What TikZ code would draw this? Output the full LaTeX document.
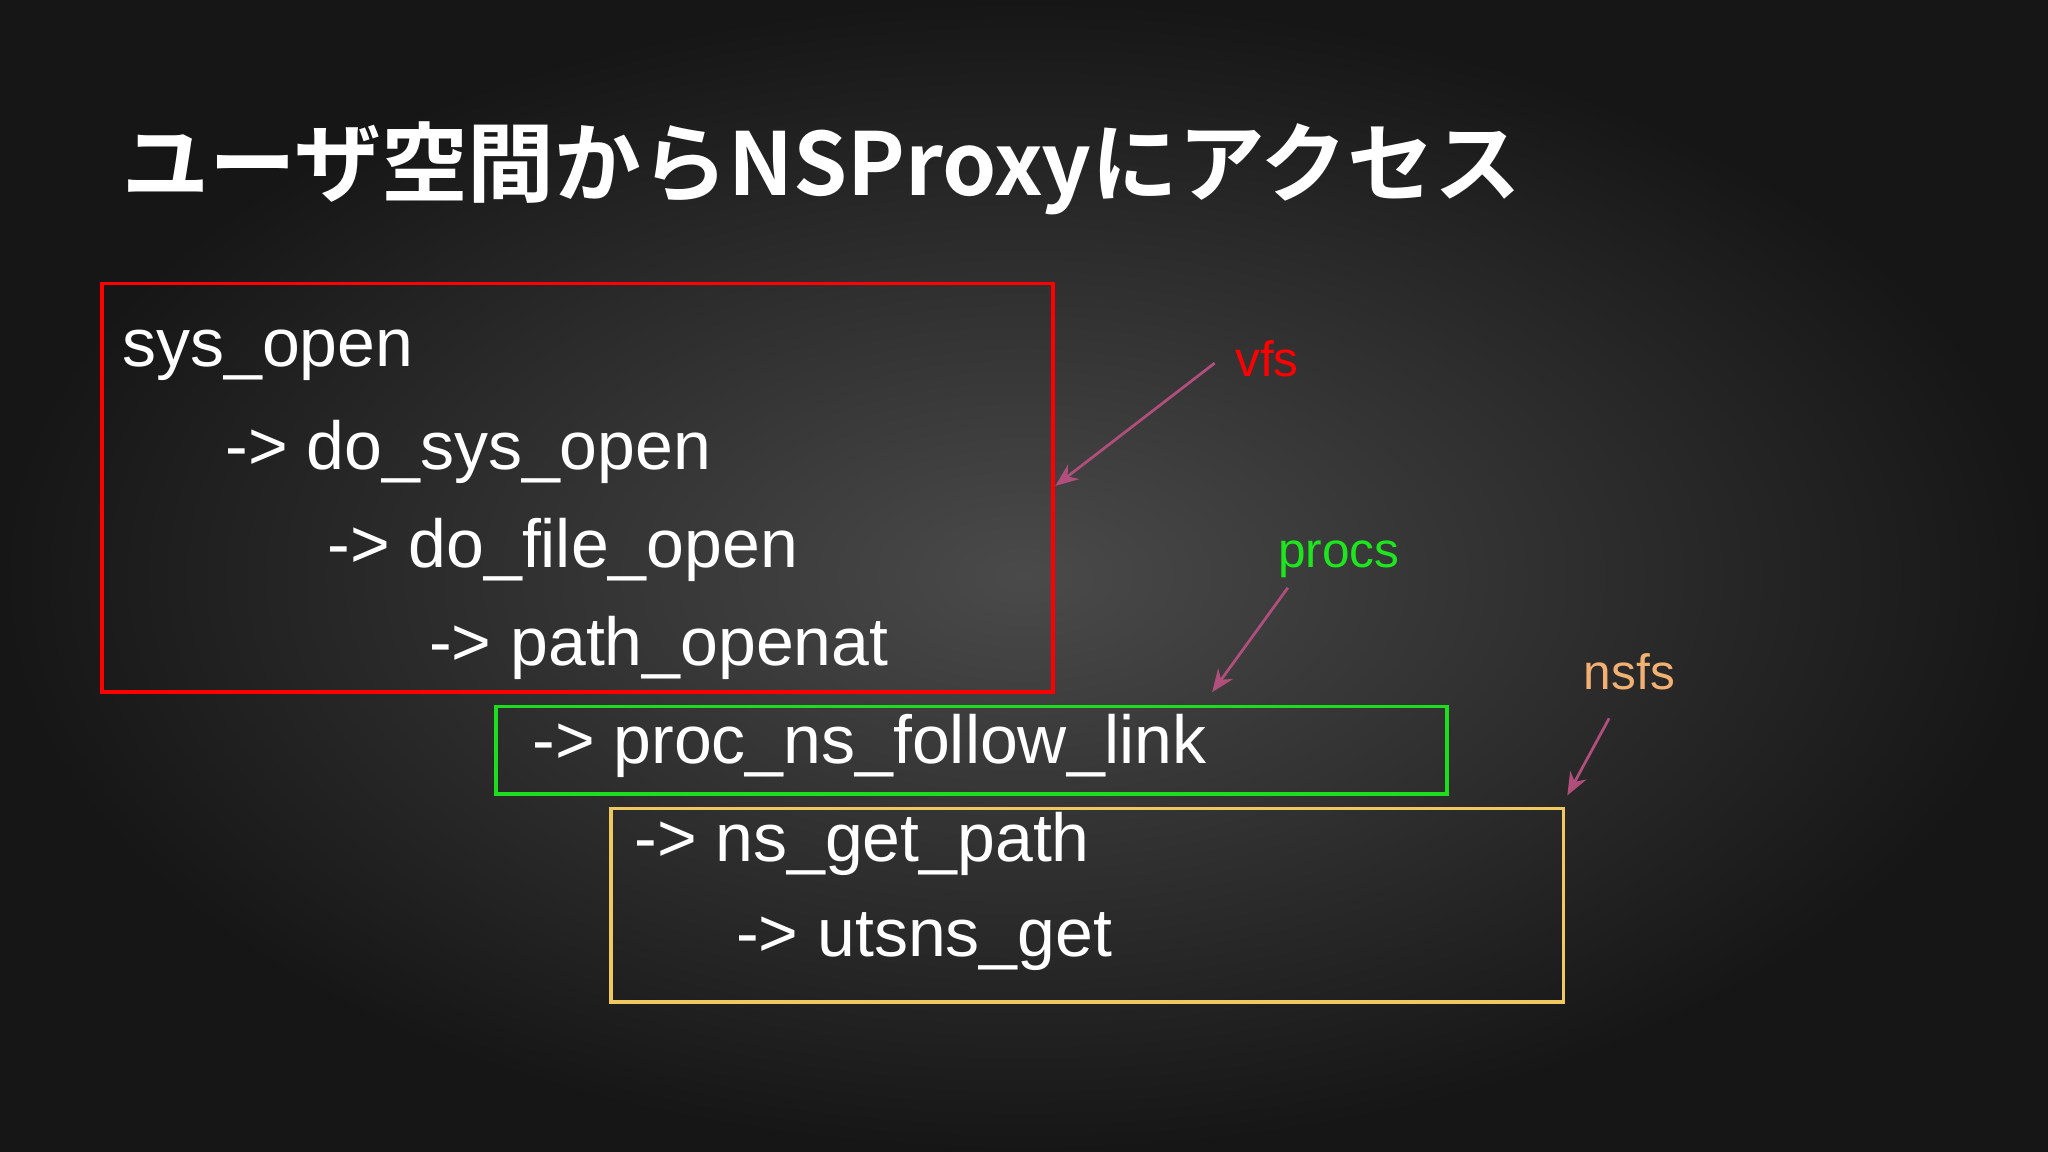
\documentclass[tikz,border=0pt]{standalone}
\usepackage{fontspec}
\setmainfont{Liberation Sans}
\newfontfamily\cjk{Noto Sans CJK JP Bold}
\definecolor{bgin}{HTML}{4A4A4A}
\definecolor{bgout}{HTML}{161616}
\definecolor{arr}{HTML}{B04E7C}
\definecolor{nsfsc}{HTML}{F2B072}
\definecolor{ybox}{HTML}{F0C860}
\tikzset{
 code/.style={anchor=west,inner sep=0pt,text=white,font=\fontsize{14.8pt}{16pt}\selectfont},
 lab/.style={inner sep=0pt,font=\fontsize{10.8pt}{12pt}\selectfont},
 pt/.style={arr,line width=0.6pt,-{Stealth[length=5pt,width=4pt]}},
 box/.style={line width=0.8pt}
}
\usetikzlibrary{arrows.meta}
\begin{document}
\begin{tikzpicture}[x=0.01cm,y=-0.01cm]
\useasboundingbox (0,0) rectangle (1568,882);
\shade[inner color=bgin,outer color=bgout] (0,0) rectangle (1568,882);
\node[anchor=west,inner sep=0pt,text=white,font=\cjk\fontsize{18.9pt}{21pt}\selectfont] (title) at (93,129) {ユーザ空間からNSProxyにアクセス};
\draw[box,red] (78,217) rectangle (806,530);
\coordinate (vfsend) at (808,372);
\draw[box,draw={rgb,255:red,30;green,220;blue,30}] (380,541) rectangle (1108,608);
\coordinate (procend) at (928,530);
\draw[box,ybox] (468,619) rectangle (1197,767);
\coordinate (nsfsend) at (1200,609);
\node[code] (a) at (93,272) {sys\_open};
\node[code] (b) at (172,346) {-> do\_sys\_open};
\node[code] (c) at (250,421) {-> do\_file\_open};
\node[code] (d) at (328,496) {-> path\_openat};
\node[code] (e) at (407,571) {-> proc\_ns\_follow\_link};
\node[code] (f) at (485,646) {-> ns\_get\_path};
\node[code] (g) at (563,721) {-> utsns\_get};
\node[lab,text=red,anchor=west] (vfs) at (945,275) {vfs};
\node[lab,text={rgb,255:red,30;green,230;blue,30},anchor=west] (procs) at (978,428) {procs};
\node[lab,text=nsfsc,anchor=west] (nsfs) at (1212,514) {nsfs};
\coordinate (vfss) at (930,278);
\coordinate (procss) at (986,450);
\coordinate (nsfss) at (1232,550);
\draw[pt] (vfss) -- (vfsend);
\draw[pt] (procss) -- (procend);
\draw[pt] (nsfss) -- (nsfsend);
\end{tikzpicture}
\end{document}
